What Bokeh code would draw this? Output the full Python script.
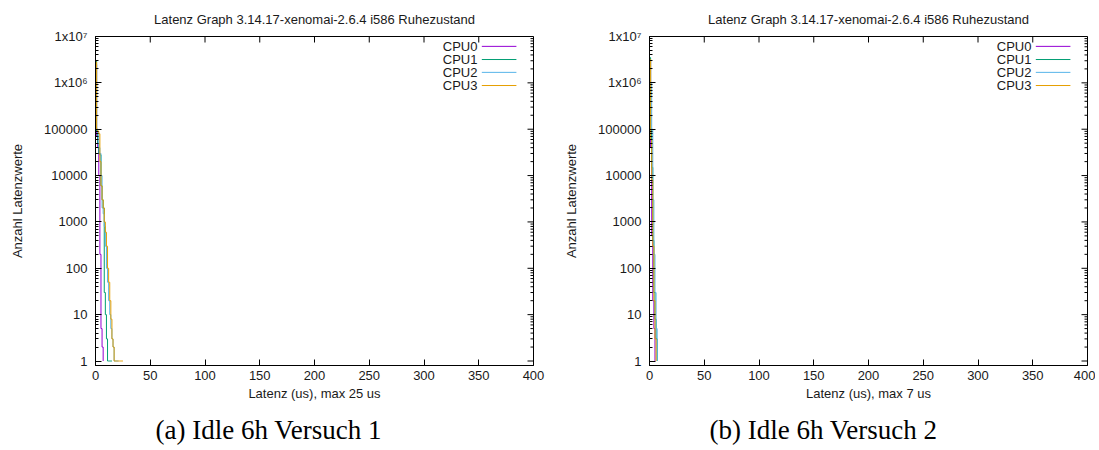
from bokeh.plotting import figure
from bokeh.models import FixedTicker, Range1d, LinearScale, Title
from bokeh.layouts import row
from bokeh.embed import file_html
from bokeh.resources import INLINE
from bokeh.core.properties import value

TITLE = "Latenz Graph 3.14.17-xenomai-2.6.4 i586 Ruhezustand"
Y_LABEL = "Anzahl Latenzwerte"
SERIES = ["CPU0", "CPU1", "CPU2", "CPU3"]
COLORS = ["#9400d3", "#009e73", "#56b4e9", "#e69f00"]

# Panel (a): histogram counts per latency bin (us)
a_cpu0 = [2.5e6, 70000, 40000, 10000, 200, 5, 2, 1]
a_cpu1 = [3.0e6, 90000, 50000, 30000, 28000, 6000, 3000, 2000, 30, 10, 3, 1, 1, 1, 1, 1]
a_cpu2 = [2.5e6, 100000, 80000, 40000, 30000, 10000, 2000, 1500, 800, 300, 100, 50,
          20, 10, 5, 3, 2, 1, 1, 1, 1, 1]
a_cpu3 = [2.8e6, 100000, 90000, 80000, 20000, 6000, 3000, 2000, 1000, 600, 300, 100,
          50, 20, 8, 3, 2, 1, 1, 1, 1, 1, 1, 1, 1, 1]
a_xlabel = "Latenz (us), max 25 us"
a_caption = "(a) Idle 6h Versuch 1"

# Panel (b)
b_cpu0 = [3.0e6, 40000, 500, 20, 5, 1]
b_cpu1 = [3.5e6, 100000, 15000, 400, 30, 8, 3, 1]
b_cpu2 = [3.0e6, 1.0e6, 100000, 3000, 200, 30, 5, 1]
b_cpu3 = [3.2e6, 60000, 8000, 300, 20, 3, 1]
b_xlabel = "Latenz (us), max 7 us"
b_caption = "(b) Idle 6h Versuch 2"

X_TICKS = [0, 50, 100, 150, 200, 250, 300, 350, 400]
Y_TICKS = [1, 10, 100, 1000, 10000, 100000, 1e6, 1e7]
Y_TICK_LABELS = ["1", "10", "100", "1000", "10000", "100000", "1x10\u2076", "1x10\u2077"]
Y_MINOR = [m * 10 ** k for k in range(0, 7) for m in range(2, 10)]

FONT = "Liberation Sans"
SERIF = "Liberation Serif"
TXT = "#1a1a1a"

FRAME_W, FRAME_H = 438, 329
LEG_X_TEXT = 0.872
LEG_X0, LEG_X1 = 0.882, 0.961
LEG_Y = [0.970, 0.930, 0.891, 0.851]


def make_panel(series, xlabel, caption, border_left, border_right):
    p = figure(
        output_backend="svg", toolbar_location=None,
        frame_width=FRAME_W, frame_height=FRAME_H,
        min_border_left=border_left, min_border_right=border_right,
        min_border_top=36, min_border_bottom=80,
        x_range=Range1d(0, 400), y_range=Range1d(0.8, 1e7),
        y_axis_type="log", title=TITLE,
    )
    p.title.text_font = FONT
    p.title.text_font_size = "13px"
    p.title.text_font_style = "normal"
    p.title.text_color = TXT
    p.title.align = "center"
    p.title.standoff = 19
    p.grid.visible = False
    p.outline_line_color = "black"
    p.outline_line_width = 1
    p.background_fill_color = "white"
    p.border_fill_color = "white"

    yt = FixedTicker(ticks=Y_TICKS, minor_ticks=Y_MINOR)
    xt = FixedTicker(ticks=X_TICKS)

    ya = p.yaxis[0]
    ya.ticker = yt
    ya.major_label_overrides = {t: l for t, l in zip(Y_TICKS, Y_TICK_LABELS)}
    ya.axis_label = Y_LABEL
    xa = p.xaxis[0]
    xa.ticker = xt
    xa.axis_label = xlabel
    for ax in (xa, ya):
        ax.axis_label_text_font = FONT
        ax.axis_label_text_font_size = "13px"
        ax.axis_label_text_font_style = "normal"
        ax.axis_label_text_color = TXT
        ax.major_label_text_font = FONT
        ax.major_label_text_font_size = "13px"
        ax.major_label_text_color = TXT
        ax.major_tick_in = 6
        ax.major_tick_out = 0
        ax.minor_tick_in = 3
        ax.minor_tick_out = 0
        ax.axis_line_color = "black"
    ya.major_label_standoff = 8
    ya.axis_label_standoff = 16
    xa.major_label_standoff = 5
    xa.axis_label_standoff = 3

    p.extra_x_ranges = {"u": Range1d(0, 1)}
    p.extra_y_ranges = {"u": Range1d(0, 1)}
    p.extra_x_scales = {"u": LinearScale()}
    p.extra_y_scales = {"u": LinearScale()}

    # mirrored ticks on the right (y) and top (x), gnuplot style
    n = len(Y_TICKS)
    p.segment(x0=[1.0] * n, x1=[1.0 - 6 / FRAME_W] * n, y0=Y_TICKS, y1=Y_TICKS,
              line_color="black", line_width=1, x_range_name="u")
    m = len(Y_MINOR)
    p.segment(x0=[1.0] * m, x1=[1.0 - 3 / FRAME_W] * m, y0=Y_MINOR, y1=Y_MINOR,
              line_color="black", line_width=1, x_range_name="u")
    k = len(X_TICKS)
    p.segment(x0=X_TICKS, x1=X_TICKS, y0=[1.0] * k, y1=[1.0 - 6 / FRAME_H] * k,
              line_color="black", line_width=1, y_range_name="u")

    for vals, col in zip(series, COLORS):
        xs = list(range(len(vals)))
        p.step(xs, vals, mode="after", line_color=col, line_width=1)

    p.text(x=[LEG_X_TEXT] * 4, y=LEG_Y, text=SERIES, text_align="right",
           text_baseline="middle", text_font=value(FONT), text_font_size="13px",
           text_color=TXT, x_range_name="u", y_range_name="u")
    p.segment(x0=[LEG_X0] * 4, x1=[LEG_X1] * 4, y0=LEG_Y, y1=LEG_Y,
              line_color=COLORS, line_width=1, x_range_name="u", y_range_name="u")

    cap = Title(text=caption, align="left", offset=60, standoff=18,
                text_font=SERIF, text_font_size="27px", text_font_style="normal",
                text_color="black")
    p.add_layout(cap, "below")
    return p


pa = make_panel([a_cpu0, a_cpu1, a_cpu2, a_cpu3], a_xlabel, a_caption, 95, 26)
pb = make_panel([b_cpu0, b_cpu1, b_cpu2, b_cpu3], b_xlabel, b_caption, 90, 8)

layout = row(pa, pb)
open("out.html", "w").write(file_html(layout, INLINE))
